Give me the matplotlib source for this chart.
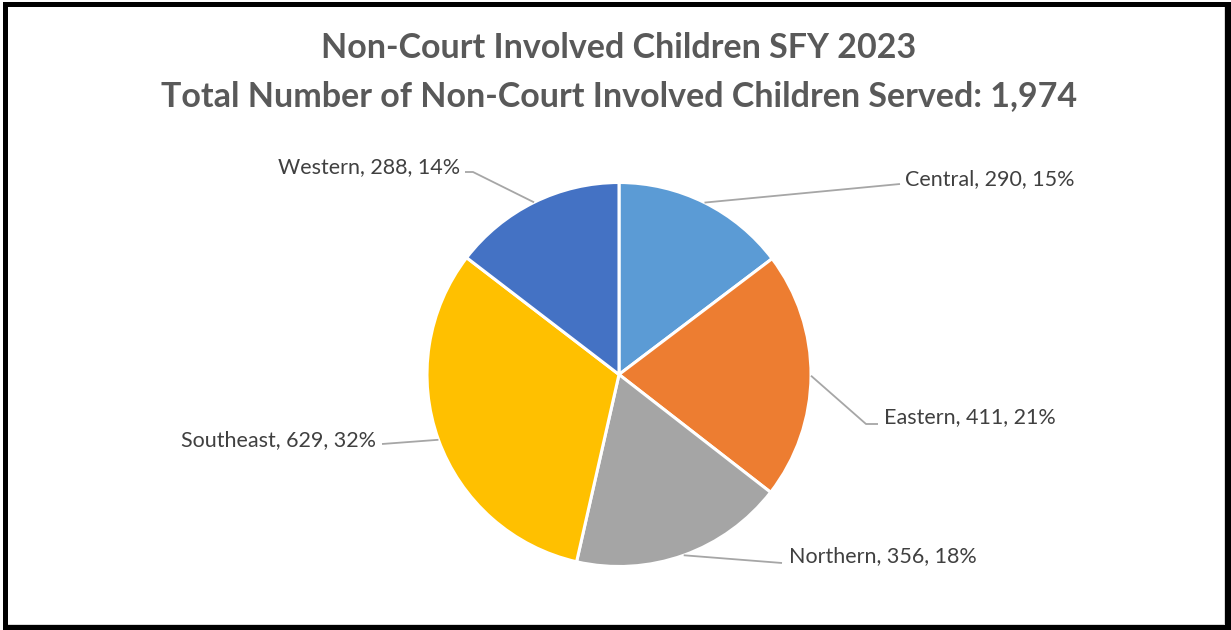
import matplotlib
matplotlib.use("Agg")
import matplotlib.pyplot as plt
from matplotlib.patches import Rectangle
import numpy as np

regions = ["Central", "Eastern", "Northern", "Southeast", "Western"]
counts = [290, 411, 356, 629, 288]
percents = ["15%", "21%", "18%", "32%", "14%"]
colors = ["#5B9BD5", "#ED7D31", "#A5A5A5", "#FFC000", "#4472C4"]
title_lines = ["Non-Court Involved Children SFY 2023",
               "Total Number of Non-Court Involved Children Served: 1,974"]

W, H = 1231, 630
fig = plt.figure(figsize=(W / 100, H / 100), dpi=100)
fig.patch.set_facecolor("white")

# frame (black border with shadow on right/bottom)
fig.patches.append(Rectangle((3, 0), W - 3, H - 2, transform=None,
                             facecolor="black", edgecolor="none", zorder=-3))
fig.patches.append(Rectangle((8, 5), 1225 - 8, 618, transform=None,
                             facecolor="#D9D9D9", edgecolor="none", zorder=-2))
fig.patches.append(Rectangle((8, 6), 1224 - 8, 617, transform=None,
                             facecolor="white", edgecolor="none", zorder=-1))

cx, cy, R = 619, 374.5, 192
pie_ax = fig.add_axes([(cx - R) / W, (H - cy - R) / H, 2 * R / W, 2 * R / H], zorder=2)
wedges, _ = pie_ax.pie(counts, colors=colors, startangle=90, counterclock=False,
                       wedgeprops=dict(edgecolor="white", linewidth=2.2))
pie_ax.set_xlim(-1, 1)
pie_ax.set_ylim(-1, 1)
pie_ax.set_aspect("equal")
pie_ax.axis("off")

ov = fig.add_axes([0, 0, 1, 1], zorder=5)
ov.set_xlim(0, W)
ov.set_ylim(H, 0)
ov.axis("off")
ov.patch.set_alpha(0)

font = "Lato"
for i, line in enumerate(title_lines):
    ov.text(619, 48 + i * 48, line, ha="center", va="center", fontsize=24.5,
            fontweight="bold", color="#595959", family=font)

# label layout: (text x, text y, ha, elbow points between wedge edge and text)
layout = {
    "Central": (905, 179, "left", [(900, 184)]),
    "Eastern": (884, 417, "left", [(866, 424), (878, 424)]),
    "Northern": (789, 556, "left", [(782, 563)]),
    "Southeast": (376, 440, "right", [(382, 444)]),
    "Western": (460, 167, "right", [(473, 172), (465, 172)]),
}
for w, name, n, p in zip(wedges, regions, counts, percents):
    mid = np.deg2rad((w.theta1 + w.theta2) / 2)
    sx = cx + R * np.cos(mid)
    sy = cy - R * np.sin(mid)
    tx, ty, ha, pts = layout[name]
    xs = [sx] + [q[0] for q in pts]
    ys = [sy] + [q[1] for q in pts]
    ov.plot(xs, ys, color="#A6A6A6", lw=1.3, solid_capstyle="butt")
    ov.text(tx, ty, f"{name}, {n}, {p}", ha=ha, va="center", fontsize=15.5,
            color="#404040", family=font)

fig.savefig("out.png", dpi=100)
